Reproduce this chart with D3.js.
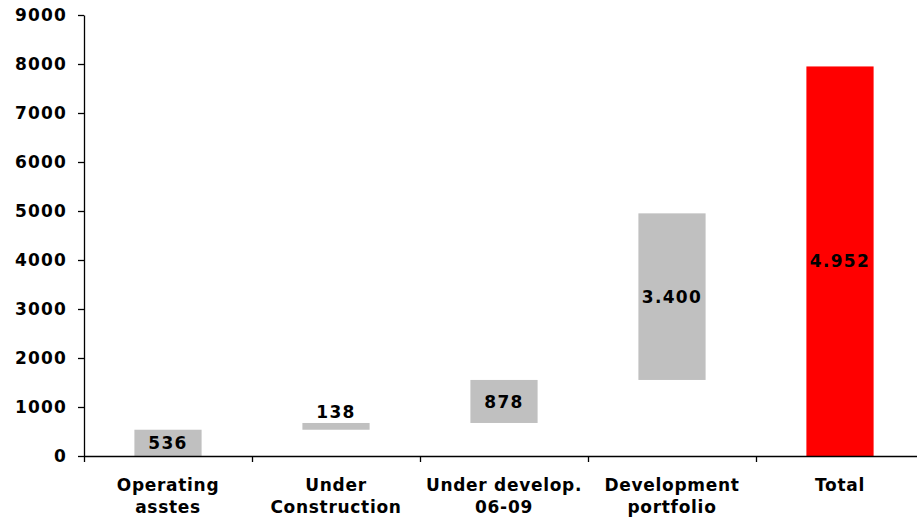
<!DOCTYPE html>
<html>
<head>
<meta charset="utf-8">
<script src="https://cdn.jsdelivr.net/npm/d3@7"></script>
<style>
  body { margin: 0; background: #fff; }
  svg { display: block; overflow: hidden; }
</style>
</head>
<body>
<div id="chart"></div>
<script>
// DATA
const categories = ["Operating asstes", "Under Construction", "Under develop. 06-09", "Development portfolio", "Total"];
const labelLines = [["Operating", "asstes"], ["Under", "Construction"], ["Under develop.", "06-09"], ["Development", "portfolio"], ["Total"]];
const steps = [536, 138, 878, 3400];   // grey floating bars
const totalLabel = 4952;                // printed on the red bar
const totalBarTop = 7950;               // height of the red bar as drawn
const yTicks = [0, 1000, 2000, 3000, 4000, 5000, 6000, 7000, 8000, 9000];

const width = 917,
  height = 520,
  margin = { top: 15, bottom: 64, left: 84, right: -7 };
const innerW = width - margin.left - margin.right,
  innerH = height - margin.top - margin.bottom;

const fmt = d3.formatLocale({ decimal: ",", thousands: ".", grouping: [3], currency: ["", ""] }).format(",d");

// build the waterfall rows
let run = 0;
const rows = steps.map((v, i) => {
  const r = { cat: categories[i], y0: run, y1: run + v, label: fmt(v), color: "#C0C0C0" };
  run += v;
  return r;
});
rows.push({ cat: categories[4], y0: 0, y1: totalBarTop, label: fmt(totalLabel), color: "#FF0000" });

const svg = d3.select("#chart").append("svg")
  .attr("width", width)
  .attr("height", height);

const g = svg.append("g").attr("transform", `translate(${margin.left},${margin.top})`);

// SCALES
const x = d3.scaleBand().domain(categories).range([0, innerW]).paddingInner(0.6).paddingOuter(0.3);
const xEdge = d3.scaleLinear().domain([0, categories.length]).range([0, innerW]);
const y = d3.scaleLinear().domain([0, 9000]).range([innerH, 0]);

const font = "'DejaVu Sans', Verdana, sans-serif";

// BARS
g.selectAll("rect.bar")
  .data(rows)
  .join("rect")
  .attr("class", "bar")
  .attr("x", d => x(d.cat))
  .attr("width", x.bandwidth())
  .attr("y", d => y(d.y1))
  .attr("height", d => y(d.y0) - y(d.y1))
  .attr("fill", d => d.color);

// VALUE LABELS
g.selectAll("text.val")
  .data(rows)
  .join("text")
  .attr("class", "val")
  .attr("x", d => x(d.cat) + x.bandwidth() / 2)
  .attr("y", d => {
    const h = y(d.y0) - y(d.y1);
    if (h < 20) return y(d.y1) - 11; // too thin, put it above
    return (y(d.y0) + y(d.y1)) / 2;
  })
  .attr("dy", "0.36em")
  .attr("text-anchor", "middle")
  .attr("font-family", font)
  .attr("font-weight", "bold")
  .attr("font-size", 17)
  .attr("letter-spacing", 1.3)
  .attr("fill", "#000")
  .text(d => d.label);

// Y AXIS
const yAxis = g.append("g")
  .call(d3.axisLeft(y).tickValues(yTicks).tickSize(6).tickSizeOuter(0).tickPadding(11).tickFormat(d3.format("d")));
yAxis.select(".domain").attr("stroke", "#000").attr("stroke-width", 1.3);
yAxis.selectAll(".tick line").attr("stroke", "#000").attr("stroke-width", 1.3);
yAxis.selectAll(".tick text")
  .attr("font-family", font)
  .attr("font-weight", "bold")
  .attr("font-size", 17)
  .attr("letter-spacing", 1.2)
  .attr("fill", "#000");

// X AXIS (ticks between categories)
const xAxis = g.append("g")
  .attr("transform", `translate(0,${innerH})`)
  .call(d3.axisBottom(xEdge).tickValues(d3.range(categories.length + 1)).tickSize(6).tickSizeOuter(0).tickFormat(""));
xAxis.select(".domain").attr("stroke", "#000").attr("stroke-width", 1.3);
xAxis.selectAll(".tick line").attr("stroke", "#000").attr("stroke-width", 1.3);

// CATEGORY LABELS
const catText = g.append("g")
  .selectAll("text")
  .data(categories)
  .join("text")
  .attr("x", d => x(d) + x.bandwidth() / 2)
  .attr("y", innerH + 35)
  .attr("text-anchor", "middle")
  .attr("font-family", font)
  .attr("font-weight", "bold")
  .attr("font-size", 17)
  .attr("letter-spacing", 0.7)
  .attr("fill", "#000");

catText.selectAll("tspan")
  .data((d, i) => labelLines[i])
  .join("tspan")
  .attr("x", function () { return this.parentNode.getAttribute("x"); })
  .attr("dy", (d, i) => i === 0 ? 0 : 22)
  .text(d => d);
</script>
</body>
</html>
